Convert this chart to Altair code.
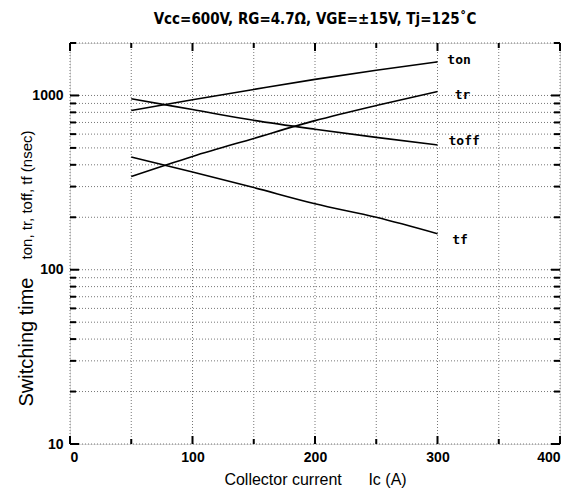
import altair as alt
import pandas as pd

ic = [50, 100, 150, 200, 250, 300]
ton = [819, 945, 1083, 1237, 1394, 1559]
toff = [957, 830, 720, 640, 575, 520]
tr = [343, 447, 567, 717, 876, 1054]
tf = [443, 364, 296, 239, 200, 161]

label_names = ["ton", "tr", "toff", "tf"]
label_x = [308, 314, 309, 312]
label_y = [1592, 1000, 548, 149]

y_grid = [10, 20, 30, 40, 50, 60, 70, 80, 90, 100, 200, 300, 400, 500, 600,
          700, 800, 900, 1000, 2000]
y_major = [10, 100, 1000]
x_grid = [0, 50, 100, 150, 200, 250, 300, 350, 400]
x_major = [0, 100, 200, 300, 400]

rows = []
for name, vals in [("ton", ton), ("toff", toff), ("tr", tr), ("tf", tf)]:
    for xv, yv in zip(ic, vals):
        rows.append({"series": name, "ic": xv, "t": yv})
df = pd.DataFrame(rows)
labels = pd.DataFrame({"name": label_names, "x": label_x, "y": label_y})
ygrid_df = pd.DataFrame({"v": y_grid, "major": [v in y_major for v in y_grid]})
xgrid_df = pd.DataFrame({"v": x_grid, "major": [v in x_major for v in x_grid]})

W, H = 490, 401
NB = "\u00a0"

xs = alt.Scale(domain=[0, 400], nice=False)
ys = alt.Scale(type="log", domain=[10, 2000], nice=False)

x_axis = alt.Axis(values=x_major, grid=False, ticks=False, domain=False,
                  labelFont="Liberation Sans", labelFontSize=14, labelFontWeight="bold",
                  labelColor="black", labelPadding=6,
                  title="Collector current" + NB * 6 + "Ic (A)", titleFont="Liberation Sans",
                  titleFontSize=16, titleFontWeight="normal", titleColor="black",
                  titlePadding=7)
y_axis = alt.Axis(values=y_major, grid=False, ticks=False, domain=False, format="d",
                  labelFont="Liberation Sans", labelFontSize=14, labelFontWeight="bold",
                  labelColor="black", labelPadding=7, title=None)

ygrid = alt.Chart(ygrid_df).mark_rule(strokeDash=[1, 2], color="#777", strokeWidth=1).encode(
    y=alt.Y("v:Q", scale=ys, axis=y_axis), x=alt.value(0), x2=alt.value(W))
xgrid = alt.Chart(xgrid_df).mark_rule(strokeDash=[1, 2], color="#777", strokeWidth=1).encode(
    x=alt.X("v:Q", scale=xs, axis=x_axis), y=alt.value(0), y2=alt.value(H))


def yticks(major, start, end):
    return alt.Chart(ygrid_df).transform_filter(
        "datum.major" if major else "!datum.major"
    ).mark_rule(color="black", strokeWidth=2).encode(
        y=alt.Y("v:Q", scale=ys), x=alt.value(start), x2=alt.value(end))


def xticks(major, start, end):
    return alt.Chart(xgrid_df).transform_filter(
        "datum.major" if major else "!datum.major"
    ).mark_rule(color="black", strokeWidth=2).encode(
        x=alt.X("v:Q", scale=xs), y=alt.value(start), y2=alt.value(end))


ticks = [
    yticks(True, 0, 9), yticks(False, 0, 6), yticks(True, W - 9, W), yticks(False, W - 6, W),
    xticks(True, H - 8, H), xticks(False, H - 5, H), xticks(True, 0, 8), xticks(False, 0, 5),
]

lines = alt.Chart(df).mark_line(color="black", strokeWidth=1.6, interpolate="monotone").encode(
    x=alt.X("ic:Q", scale=xs),
    y=alt.Y("t:Q", scale=ys),
    detail="series:N")

text = alt.Chart(labels).mark_text(align="left", baseline="middle", font="DejaVu Sans Mono",
                                   fontSize=13, fontWeight="bold", color="black").encode(
    x=alt.X("x:Q", scale=xs), y=alt.Y("y:Q", scale=ys), text="name:N")

ytitle1 = alt.Chart(pd.DataFrame({"t": ["Switching time"]})).mark_text(
    angle=270, align="center", baseline="middle", font="Liberation Sans", fontSize=20,
    color="black").encode(text="t:N", x=alt.value(-43), y=alt.value(299))
ytitle2 = alt.Chart(pd.DataFrame({"t": ["ton, tr, toff, tf (nsec)"]})).mark_text(
    angle=270, align="center", baseline="middle", font="Liberation Sans", fontSize=15,
    color="black").encode(text="t:N", x=alt.value(-43), y=alt.value(152))

chart = alt.layer(
    ygrid, xgrid, *ticks, lines, text, ytitle1, ytitle2
).properties(
    width=W, height=H,
    title=alt.TitleParams("Vcc=600V,  RG=4.7Ω,  VGE=±15V,  Tj=125˚C",
                          font="DejaVu Sans Condensed", fontSize=15, fontWeight="bold",
                          color="black", offset=15),
    autosize=alt.AutoSizeParams(type="none"),
    padding={"left": 62, "top": 35, "right": 17, "bottom": 47},
).configure_view(stroke="black", strokeWidth=2).configure(background="white")

chart.save("out.html", embed_options={"renderer": "svg", "actions": False})
